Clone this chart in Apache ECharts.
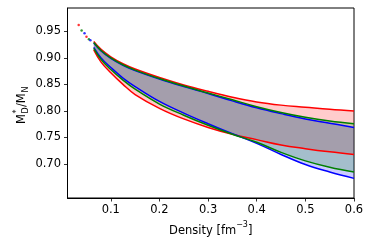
<!DOCTYPE html>
<html>
<head>
<meta charset="utf-8">
<script src="https://cdn.jsdelivr.net/npm/echarts@6/dist/echarts.min.js"></script>
<style>html,body{margin:0;padding:0;background:#fff}#c{width:374px;height:249px}</style>
</head>
<body>
<div id="c"></div>
<script>
const density = [0.065, 0.08, 0.1, 0.125, 0.15, 0.2, 0.25, 0.3, 0.35, 0.4, 0.45, 0.5, 0.55, 0.6];
const redUpper   = [0.931, 0.916, 0.902, 0.889, 0.879, 0.863, 0.849, 0.837, 0.826, 0.817, 0.811, 0.807, 0.803, 0.800];
const redLower   = [0.915, 0.892, 0.872, 0.850, 0.831, 0.805, 0.785, 0.769, 0.756, 0.746, 0.736, 0.729, 0.723, 0.718];
const greenUpper = [0.929, 0.914, 0.900, 0.887, 0.877, 0.861, 0.847, 0.834, 0.821, 0.808, 0.797, 0.788, 0.781, 0.776];
const greenLower = [0.918, 0.897, 0.878, 0.858, 0.841, 0.813, 0.792, 0.773, 0.756, 0.741, 0.722, 0.706, 0.694, 0.685];
const blueUpper  = [0.928, 0.913, 0.899, 0.886, 0.876, 0.860, 0.846, 0.833, 0.819, 0.806, 0.795, 0.785, 0.777, 0.769];
const blueLower  = [0.920, 0.900, 0.882, 0.862, 0.846, 0.818, 0.796, 0.776, 0.757, 0.739, 0.718, 0.699, 0.685, 0.673];
// sparse dots at very low density
const redDotsX = [0.034, 0.050], redDotsY = [0.962, 0.940];
const greenDotsX = [0.040, 0.055], greenDotsY = [0.9515, 0.935];
const blueDotsX = [0.046, 0.058], blueDotsY = [0.9466, 0.933];
const xTicks = [0.1, 0.2, 0.3, 0.4, 0.5, 0.6];
const yTicks = [0.70, 0.75, 0.80, 0.85, 0.90, 0.95];

const FONT = 'DejaVu Sans';
const pairs = (xs, ys) => xs.map((x, i) => [x, ys[i]]);
// for stacked series: value first, density second (so the stack is on the value dimension)
const yx = (ys) => density.map((x, i) => [ys[i], x]);
const yxDiff = (u, l) => density.map((x, i) => [u[i] - l[i], x]);

function band(name, upper, lower, color, fill) {
  return [
    { type: 'line', stack: name, data: yx(lower), encode: { x: 1, y: 0 }, smooth: 0.4, showSymbol: false,
      lineStyle: { opacity: 0 }, silent: true, z: 1 },
    { type: 'line', stack: name, data: yxDiff(upper, lower), encode: { x: 1, y: 0 }, smooth: 0.4, showSymbol: false,
      lineStyle: { opacity: 0 }, areaStyle: { color: fill, opacity: 1 }, silent: true, z: 1 },
    { type: 'line', data: pairs(density, upper), smooth: 0.4, showSymbol: false,
      lineStyle: { color: color, width: 1.5 }, z: 3 },
    { type: 'line', data: pairs(density, lower), smooth: 0.4, showSymbol: false,
      lineStyle: { color: color, width: 1.5 }, z: 3 }
  ];
}
function dots(xs, ys, color) {
  return { type: 'scatter', data: pairs(xs, ys), symbolSize: 2.5, itemStyle: { color: color }, z: 4 };
}

const chart = echarts.init(document.getElementById('c'), null, { renderer: 'canvas' });
chart.setOption({
  animation: false,
  grid: { left: 67.5, right: 20, top: 8, bottom: 51, show: true, borderColor: '#000', borderWidth: 1,
          containLabel: false, outerBoundsMode: 'none' },
  xAxis: {
    type: 'value', min: 0.011, max: 0.6,
    axisLine: { show: true, lineStyle: { color: '#000', width: 1 } },
    axisTick: { show: true, length: 3.5, lineStyle: { color: '#000', width: 0.8 }, customValues: xTicks },
    axisLabel: { color: '#000', fontFamily: FONT, fontSize: 11.5, margin: 6.5, customValues: xTicks,
                 formatter: v => v.toFixed(1) },
    splitLine: { show: false },
    name: '{a|Density [fm}{s|−3}{a|]}', nameLocation: 'middle', nameGap: 20,
    nameTextStyle: { rich: {
      a: { fontFamily: FONT, fontSize: 11.5, color: '#000', verticalAlign: 'bottom', lineHeight: 16 },
      s: { fontFamily: FONT, fontSize: 8, color: '#000', verticalAlign: 'top', lineHeight: 16 } } }
  },
  yAxis: {
    type: 'value', min: 0.636, max: 0.994,
    axisLine: { show: true, lineStyle: { color: '#000', width: 1 } },
    axisTick: { show: true, length: 3.5, lineStyle: { color: '#000', width: 0.8 }, customValues: yTicks },
    axisLabel: { color: '#000', fontFamily: FONT, fontSize: 11.5, margin: 6.5, customValues: yTicks,
                 formatter: v => v.toFixed(2) },
    splitLine: { show: false }
  },
  graphic: [{
    type: 'group', x: 22, y: 124, rotation: Math.PI / 2,
    children: [
      { type: 'text', x: 0, y: 0, style: { text: 'M', font: '11.5px "DejaVu Sans"', fill: '#000', verticalAlign: 'middle' } },
      { type: 'text', x: 10.5, y: -5, style: { text: '*', font: '8px "DejaVu Sans"', fill: '#000', verticalAlign: 'middle' } },
      { type: 'text', x: 10.5, y: 4, style: { text: 'D', font: '8px "DejaVu Sans"', fill: '#000', verticalAlign: 'middle' } },
      { type: 'text', x: 17, y: 0, style: { text: '/M', font: '11.5px "DejaVu Sans"', fill: '#000', verticalAlign: 'middle' } },
      { type: 'text', x: 31.5, y: 4, style: { text: 'N', font: '8px "DejaVu Sans"', fill: '#000', verticalAlign: 'middle' } }
    ]
  }],
  series: [
    ...band('r', redUpper, redLower, '#ff0000', 'rgba(255,0,0,0.2)'),
    ...band('b', blueUpper, blueLower, '#0000ff', 'rgba(0,0,255,0.2)'),
    ...band('g', greenUpper, greenLower, '#008000', 'rgba(0,128,0,0.2)'),
    dots(redDotsX, redDotsY, '#ff0000'),
    dots(greenDotsX, greenDotsY, '#008000'),
    dots(blueDotsX, blueDotsY, '#0000ff')
  ]
});
</script>
</body>
</html>
